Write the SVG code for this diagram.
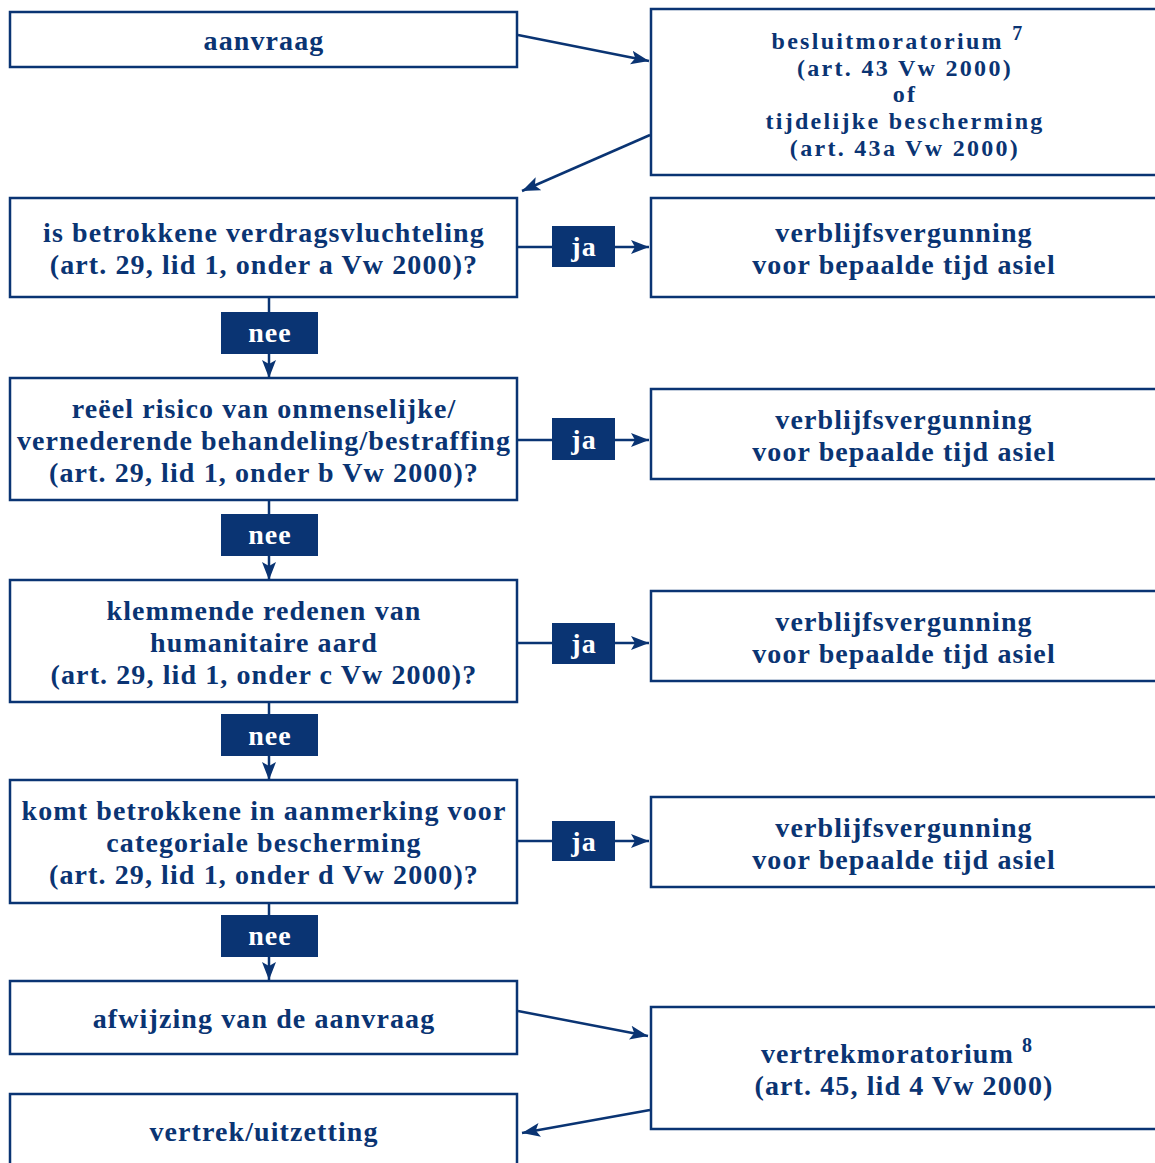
<svg xmlns="http://www.w3.org/2000/svg" width="1155" height="1163" viewBox="0 0 1155 1163">
<style>
.box{fill:#fff;stroke:#0a3473;stroke-width:2.5}
.lab{fill:#0a3473}
.t{font-family:"Liberation Serif","DejaVu Serif",serif;font-weight:bold;font-size:28px;letter-spacing:1.1px;fill:#0a3473;text-anchor:middle}
.s{font-size:24px;letter-spacing:2.3px}
.w{font-family:"Liberation Serif","DejaVu Serif",serif;font-weight:bold;font-size:28px;letter-spacing:1px;fill:#fff;text-anchor:middle}
.sup{font-size:20px}
.c{fill:none;stroke:#0a3473;stroke-width:2.5}
</style>
<defs>
<marker id="ah" markerUnits="userSpaceOnUse" markerWidth="20" markerHeight="16" refX="18" refY="8" orient="auto">
<path d="M0,1 L18,8 L0,15 L4,8 Z" fill="#0a3473"/>
</marker>
</defs>
<g id="connectors">
<line class="c" x1="518" y1="35" x2="649" y2="61" marker-end="url(#ah)"/>
<line class="c" x1="650" y1="135" x2="522" y2="191" marker-end="url(#ah)"/>
<line class="c" x1="517" y1="247" x2="552" y2="247"/>
<line class="c" x1="615" y1="247" x2="649" y2="247" marker-end="url(#ah)"/>
<line class="c" x1="269" y1="297" x2="269" y2="312"/>
<line class="c" x1="269" y1="354" x2="269" y2="378" marker-end="url(#ah)"/>
<line class="c" x1="517" y1="440" x2="552" y2="440"/>
<line class="c" x1="615" y1="440" x2="649" y2="440" marker-end="url(#ah)"/>
<line class="c" x1="269" y1="500" x2="269" y2="514"/>
<line class="c" x1="269" y1="556" x2="269" y2="580" marker-end="url(#ah)"/>
<line class="c" x1="517" y1="643" x2="552" y2="643"/>
<line class="c" x1="615" y1="643" x2="649" y2="643" marker-end="url(#ah)"/>
<line class="c" x1="269" y1="702" x2="269" y2="714"/>
<line class="c" x1="269" y1="756" x2="269" y2="780" marker-end="url(#ah)"/>
<line class="c" x1="517" y1="841" x2="552" y2="841"/>
<line class="c" x1="615" y1="841" x2="649" y2="841" marker-end="url(#ah)"/>
<line class="c" x1="269" y1="903" x2="269" y2="915"/>
<line class="c" x1="269" y1="957" x2="269" y2="980" marker-end="url(#ah)"/>
<line class="c" x1="518" y1="1011" x2="648" y2="1036" marker-end="url(#ah)"/>
<line class="c" x1="650" y1="1110" x2="522" y2="1133" marker-end="url(#ah)"/>
</g>
<g id="aanvraag"><rect class="box" x="10" y="12" width="507" height="55"/><text class="t" x="264" y="50">aanvraag</text></g>
<g id="besluitmoratorium"><rect class="box" x="651" y="9" width="520" height="166"/>
<text class="t s" x="898" y="49">besluitmoratorium <tspan class="sup" dy="-9">7</tspan></text>
<text class="t s" x="905" y="76">(art. 43 Vw 2000)</text>
<text class="t s" x="905" y="102">of</text>
<text class="t s" x="905" y="129">tijdelijke bescherming</text>
<text class="t s" x="905" y="156">(art. 43a Vw 2000)</text></g>
<g id="vraag1"><rect class="box" x="10" y="198" width="507" height="99"/>
<text class="t" x="264" y="242">is betrokkene verdragsvluchteling</text>
<text class="t" x="264" y="274">(art. 29, lid 1, onder a Vw 2000)?</text></g>
<g id="ja1"><rect class="lab" x="552" y="226" width="63" height="41"/><text class="w" x="584" y="256">ja</text></g>
<g id="vvv1"><rect class="box" x="651" y="198" width="520" height="99"/>
<text class="t" x="904" y="242">verblijfsvergunning</text>
<text class="t" x="904" y="274">voor bepaalde tijd asiel</text></g>
<g id="nee1"><rect class="lab" x="221" y="312" width="97" height="42"/><text class="w" x="270" y="342">nee</text></g>
<g id="vraag2"><rect class="box" x="10" y="378" width="507" height="122"/>
<text class="t" x="264" y="418">reëel risico van onmenselijke/</text>
<text class="t" x="264" y="450">vernederende behandeling/bestraffing</text>
<text class="t" x="264" y="482">(art. 29, lid 1, onder b Vw 2000)?</text></g>
<g id="ja2"><rect class="lab" x="552" y="418" width="63" height="42"/><text class="w" x="584" y="449">ja</text></g>
<g id="vvv2"><rect class="box" x="651" y="389" width="520" height="90"/>
<text class="t" x="904" y="429">verblijfsvergunning</text>
<text class="t" x="904" y="461">voor bepaalde tijd asiel</text></g>
<g id="nee2"><rect class="lab" x="221" y="514" width="97" height="42"/><text class="w" x="270" y="544">nee</text></g>
<g id="vraag3"><rect class="box" x="10" y="580" width="507" height="122"/>
<text class="t" x="264" y="620">klemmende redenen van</text>
<text class="t" x="264" y="652">humanitaire aard</text>
<text class="t" x="264" y="684">(art. 29, lid 1, onder c Vw 2000)?</text></g>
<g id="ja3"><rect class="lab" x="552" y="623" width="63" height="41"/><text class="w" x="584" y="653">ja</text></g>
<g id="vvv3"><rect class="box" x="651" y="591" width="520" height="90"/>
<text class="t" x="904" y="631">verblijfsvergunning</text>
<text class="t" x="904" y="663">voor bepaalde tijd asiel</text></g>
<g id="nee3"><rect class="lab" x="221" y="714" width="97" height="42"/><text class="w" x="270" y="745">nee</text></g>
<g id="vraag4"><rect class="box" x="10" y="780" width="507" height="123"/>
<text class="t" x="264" y="820">komt betrokkene in aanmerking voor</text>
<text class="t" x="264" y="852">categoriale bescherming</text>
<text class="t" x="264" y="884">(art. 29, lid 1, onder d Vw 2000)?</text></g>
<g id="ja4"><rect class="lab" x="552" y="821" width="63" height="40"/><text class="w" x="584" y="851">ja</text></g>
<g id="vvv4"><rect class="box" x="651" y="797" width="520" height="90"/>
<text class="t" x="904" y="837">verblijfsvergunning</text>
<text class="t" x="904" y="869">voor bepaalde tijd asiel</text></g>
<g id="nee4"><rect class="lab" x="221" y="915" width="97" height="42"/><text class="w" x="270" y="945">nee</text></g>
<g id="afwijzing"><rect class="box" x="10" y="981" width="507" height="73"/>
<text class="t" x="264" y="1028">afwijzing van de aanvraag</text></g>
<g id="vertrekmoratorium"><rect class="box" x="651" y="1007" width="520" height="122"/>
<text class="t" x="897" y="1063">vertrekmoratorium <tspan class="sup" dy="-11">8</tspan></text>
<text class="t" x="904" y="1095">(art. 45, lid 4 Vw 2000)</text></g>
<g id="vertrek"><rect class="box" x="10" y="1094" width="507" height="80"/>
<text class="t" x="264" y="1141">vertrek/uitzetting</text></g>
</svg>
